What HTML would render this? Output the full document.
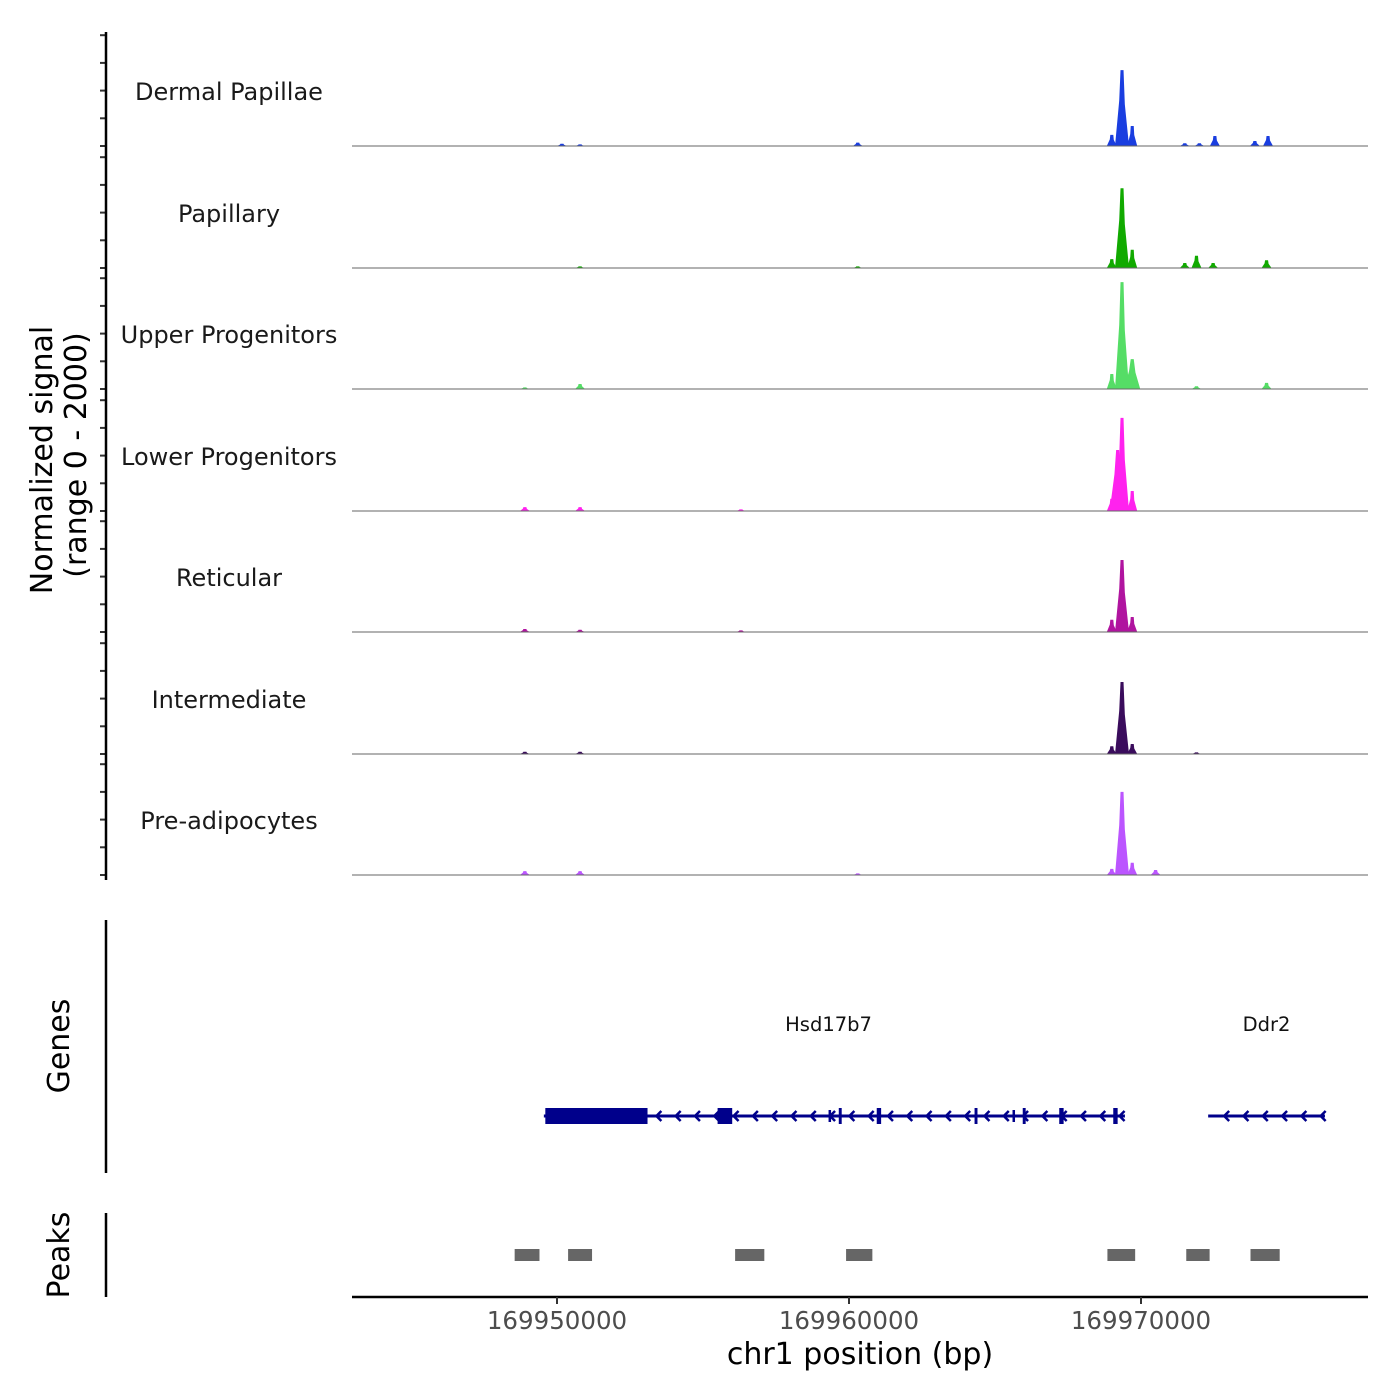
<!DOCTYPE html>
<html><head><meta charset="utf-8"><style>
html,body{margin:0;padding:0;background:#fff}
svg{display:block;font-family:"DejaVu Sans","Liberation Sans",sans-serif}
</style></head><body>
<svg id="chart" width="1400" height="1400" viewBox="0 0 1400 1400">
<g id="tracks"></g>
<g id="genes"></g>
<g id="peaks"></g>
<g id="axes"></g>
</svg>
<script>
// Data (positions in kb offset from 169950000, signal in normalized units 0-2000)
const trackNames = ["Dermal Papillae","Papillary","Upper Progenitors","Lower Progenitors","Reticular","Intermediate","Pre-adipocytes"];
const trackColors = ["#1a3ee0","#11aa00","#55dd66","#ff22ee","#b0149f","#3a0c5c","#bb55ff"];
const peakPos = [
 [19.35,19.0,19.7,22.53,24.35,23.9,10.3,0.17,0.79,21.5,22.0],
 [19.35,19.0,19.7,21.9,21.5,24.3,22.47,0.79,10.3],
 [19.35,19.0,19.7,24.3,0.79,21.9,-1.1],
 [19.35,19.2,19.0,19.7,-1.1,0.79,6.3],
 [19.35,19.0,19.7,-1.1,0.79,6.3],
 [19.35,19.0,19.7,-1.1,0.79,21.9],
 [19.35,19.0,19.7,-1.1,0.79,20.5,10.3]
];
const peakVal = [
 [1370,200,360,180,180,90,60,40,30,50,50],
 [1440,160,330,220,90,140,90,30,30],
 [1930,270,540,110,90,50,30],
 [1680,1100,220,360,70,70,30],
 [1300,220,270,55,40,30],
 [1300,140,180,40,40,30],
 [1500,110,220,70,70,90,30]
];
const geneNames = ["Hsd17b7","Ddr2"];
const geneStart = [-0.45,22.3];
const geneEnd = [19.45,26.3];
const geneLabelPos = [9.3,24.3];
const exonStart = [-0.4,5.5,9.3,9.65,10.95,14.3,15.6,15.95,17.2,19.05];
const exonEnd = [3.1,6.0,9.38,9.75,11.1,14.4,15.68,16.05,17.35,19.2];
const exonTall = [1,1,0,1,1,1,0,1,1,1];
const regionStart = [-1.45,0.38,6.1,9.9,18.85,21.55,23.75];
const regionEnd = [-0.6,1.2,7.1,10.8,19.8,22.35,24.75];
const xTickVals = [169950000,169960000,169970000];
const yTickVals = [0,500,1000,1500,2000];

const NS="http://www.w3.org/2000/svg";
function mk(t,a,p){const e=document.createElementNS(NS,t);for(const k in a)e.setAttribute(k,a[k]);p.appendChild(e);return e;}
const X = kb => 557 + kb*29.2;
const XB = bp => X((bp-169950000)/1000);
const baselines=[146,268,389,511,632,754,875];
const Y = (v,b) => b - v*110.8/2000;
const L=352,R=1368;

const tracks=document.getElementById('tracks');
const axes=document.getElementById('axes');
trackNames.forEach((nm,i)=>{
 const b=baselines[i];
 const g=mk('g',{},tracks);
 
 
 const lab=mk('text',{x:229,y:b-46,'text-anchor':'middle','font-size':24,fill:'#1a1a1a'},g);
 lab.textContent=nm;
 
 
 peakPos[i].forEach((p,j)=>{
  const v=peakVal[i][j];
  const hw = j===0?7:(v>500?8:5);
  const cx=X(p), top=Y(v,b);
  const d=`M${cx-hw} ${b} L${cx-hw*0.4} ${Y(v*0.6,b)} L${cx-1.5} ${top} L${cx+1.5} ${top} L${cx+hw*0.4} ${Y(v*0.55,b)} L${cx+hw} ${b} Z`;
  const pth=mk('path',{d:d,fill:trackColors[i]},g);
  
  
 });
 const bl=mk('line',{x1:L,x2:R,y1:b,y2:b,stroke:'#666','stroke-width':1},g);
 
 
 yTickVals.forEach(t=>{
  const tk=mk('line',{x1:100,x2:106,y1:Y(t,b),y2:Y(t,b),stroke:'#333','stroke-width':2},axes);
  
  
 });
});

// genes
const genes=document.getElementById('genes');
const GY=1116;
geneNames.forEach((gn,i)=>{
 const x1=X(geneStart[i]),x2=X(geneEnd[i]);
 const ln=mk('line',{x1:x1,x2:x2,y1:GY,y2:GY,stroke:'#00008b','stroke-width':3},genes);
 
 
 for(let x=x1+16;x<x2;x+=19.3){
  const ch=mk('polyline',{points:`${x+5},${GY-5} ${x},${GY} ${x+5},${GY+5}`,fill:'none',stroke:'#00008b','stroke-width':2.5},genes);
  
  
 }
 const t=mk('text',{x:X(geneLabelPos[i]),y:1031,'text-anchor':'middle','font-size':19.5,fill:'#111'},genes);
 t.textContent=gn;
 
 
});
exonStart.forEach((s,i)=>{
 const h=exonTall[i]?16:12;
 const r=mk('rect',{x:X(s),y:GY-h/2,width:Math.max(2.5,X(exonEnd[i])-X(s)),height:h,fill:'#00008b'},genes);
 
 
});

// peaks
const peaks=document.getElementById('peaks');
regionStart.forEach((s,i)=>{
 const r=mk('rect',{x:X(s),y:1249,width:X(regionEnd[i])-X(s),height:12,fill:'#666'},peaks);
 
 
});

// axes
[[32,880],[920,1173],[1213,1297]].forEach(([a,b])=>{
 const l=mk('line',{x1:106,x2:106,y1:a,y2:b,stroke:'#000','stroke-width':2.5},axes);
 
 
});
const xa=mk('line',{x1:L,x2:R,y1:1297,y2:1297,stroke:'#000','stroke-width':2.5},axes);


xTickVals.forEach(v=>{
 const x=XB(v);
 const tk=mk('line',{x1:x,x2:x,y1:1297,y2:1304,stroke:'#333','stroke-width':2},axes);
 
 
 const t=mk('text',{x:x,y:1329,'text-anchor':'middle','font-size':24.5,fill:'#4d4d4d'},axes);
 t.textContent=String(v);
 
 
});
const xt=mk('text',{x:860,y:1364,'text-anchor':'middle','font-size':30,fill:'#000'},axes);
xt.textContent='chr1 position (bp)';


function vt(txt,x,y,name){
 const t=mk('text',{x:x,y:y,'text-anchor':'middle','font-size':30,fill:'#000',transform:`rotate(-90 ${x} ${y})`},axes);
 t.textContent=txt;
 
 
}
vt('Normalized signal',52,460,'y-axis-title');
vt('(range 0 - 2000)',86,455,'y-axis-subtitle');
vt('Genes',69,1046,'genes-axis-title');
vt('Peaks',69,1255,'peaks-axis-title');
</script>
</body></html>
